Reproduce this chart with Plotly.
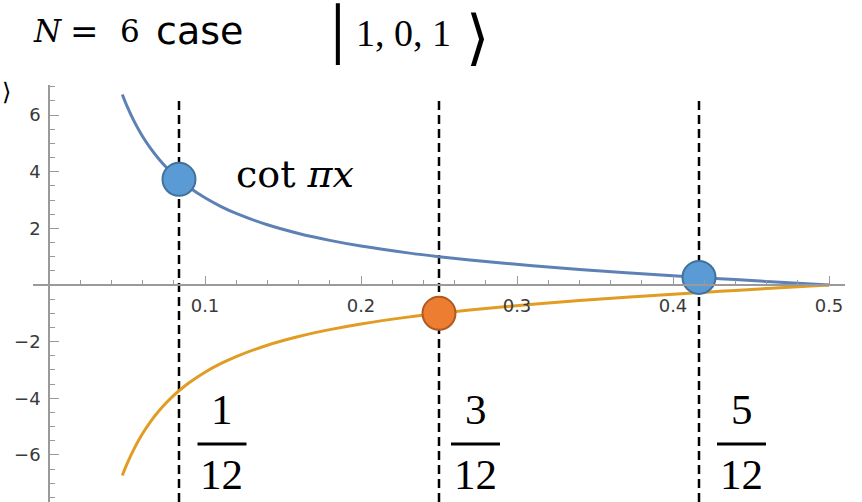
import plotly.graph_objects as go

# ---- data -------------------------------------------------------------
# sampled points of the cot(pi x) curve and its mirror image
x_vals = [0.047, 0.05, 0.055, 0.06, 0.065, 0.07, 0.075, 0.08, 1 / 12, 0.09,
          0.10, 0.11, 0.12, 0.14, 0.16, 0.18, 0.20, 0.23, 0.25, 0.28, 0.31,
          0.34, 0.37, 0.40, 0.43, 0.46, 0.50]
cot_vals = [6.724, 6.314, 5.730, 5.242, 4.829, 4.474, 4.165, 3.895, 3.732, 3.442,
            3.078, 2.778, 2.526, 2.125, 1.819, 1.576, 1.376, 1.134, 1.000, 0.827, 0.680,
            0.550, 0.433, 0.325, 0.224, 0.126, 0.0]
neg_cot_vals = [-6.724, -6.314, -5.730, -5.242, -4.829, -4.474, -4.165, -3.895, -3.732, -3.442,
                -3.078, -2.778, -2.526, -2.125, -1.819, -1.576, -1.376, -1.134, -1.000, -0.827, -0.680,
                -0.550, -0.433, -0.325, -0.224, -0.126, 0.0]

# highlighted points at k/12
blue_pts_x = [1 / 12, 5 / 12]
blue_pts_y = [3.732, 0.268]
orange_pts_x = [3 / 12]
orange_pts_y = [-1.0]

# dashed guides and their fraction labels
guide_x = [1 / 12, 3 / 12, 5 / 12]
guide_num = ["1", "3", "5"]
guide_den = ["12", "12", "12"]

x_tickvals = [0.1, 0.2, 0.3, 0.4, 0.5]
x_ticktext = ["0.1", "0.2", "0.3", "0.4", "0.5"]
y_tickvals = [-6, -4, -2, 2, 4, 6]
y_ticktext = ["\u22126", "\u22124", "\u22122", "2", "4", "6"]

# ---- geometry helpers (pixel -> paper) ---------------------------------
W, H = 862, 502


def px(x):
    return x / W


def py(y):
    return 1 - y / H


Y_SCALE = 28.33      # pixels per y unit
X_SCALE = 1560.0     # pixels per x unit
ORIGIN_X, ORIGIN_Y = 49, 285
AX_LEFT, AX_RIGHT, AX_TOP = 33, 845, 85

BLUE = "#5E81B5"
ORANGE = "#E19C24"
AXIS_GREY = "#9a9a9a"

fig = go.Figure()

fig.add_trace(go.Scatter(x=x_vals, y=cot_vals, mode="lines",
                         line=dict(color=BLUE, width=3, shape="spline"),
                         hoverinfo="skip", showlegend=False))
fig.add_trace(go.Scatter(x=x_vals, y=neg_cot_vals, mode="lines",
                         line=dict(color=ORANGE, width=3, shape="spline"),
                         hoverinfo="skip", showlegend=False))
fig.add_trace(go.Scatter(x=blue_pts_x, y=blue_pts_y, mode="markers",
                         marker=dict(size=33, color="#5B9BD5",
                                     line=dict(color="#41719C", width=2)),
                         hoverinfo="skip", showlegend=False))
fig.add_trace(go.Scatter(x=orange_pts_x, y=orange_pts_y, mode="markers",
                         marker=dict(size=33, color="#ED7D31",
                                     line=dict(color="#AE5A21", width=2)),
                         hoverinfo="skip", showlegend=False))

y_bottom = (ORIGIN_Y - H) / Y_SCALE
y_top = (ORIGIN_Y - AX_TOP) / Y_SCALE
guide_top = (ORIGIN_Y - 100) / Y_SCALE

shapes = []
for gx in guide_x:
    shapes.append(dict(type="line", xref="x", yref="y", x0=gx, x1=gx,
                       y0=y_bottom, y1=guide_top, layer="below",
                       line=dict(color="black", width=2.5, dash="9px,5px")))

annotations = []
frac_centers = [222, 475.5, 741.5]
SERIF = "Liberation Serif"
for cx, num, den in zip(frac_centers, guide_num, guide_den):
    annotations.append(dict(x=px(cx), y=py(409), xref="paper", yref="paper",
                            text=num, showarrow=False, xanchor="center", yanchor="middle",
                            font=dict(family=SERIF, size=43, color="black")))
    annotations.append(dict(x=px(cx), y=py(474), xref="paper", yref="paper",
                            text=den, showarrow=False, xanchor="center", yanchor="middle",
                            font=dict(family=SERIF, size=43, color="black")))
    shapes.append(dict(type="line", xref="paper", yref="paper",
                       x0=px(cx - 24.5), x1=px(cx + 24.5), y0=py(444), y1=py(444),
                       line=dict(color="black", width=2.8)))

# curve label
annotations.append(dict(x=px(234), y=py(174), xref="paper", yref="paper",
                        text="cot <i>\u03c0x</i>", showarrow=False,
                        xanchor="left", yanchor="middle",
                        font=dict(family="DejaVu Serif", size=38, color="black")))

# heading: "N = 6 case"
head_y = py(31)
annotations.append(dict(x=px(31), y=head_y, xref="paper", yref="paper", text="<i>N</i>",
                        showarrow=False, xanchor="left", yanchor="middle",
                        font=dict(family="DejaVu Serif", size=31, color="black")))
annotations.append(dict(x=px(84), y=head_y, xref="paper", yref="paper", text="=",
                        showarrow=False, xanchor="center", yanchor="middle",
                        font=dict(family="DejaVu Serif", size=34, color="black")))
annotations.append(dict(x=px(130), y=head_y, xref="paper", yref="paper", text="6",
                        showarrow=False, xanchor="center", yanchor="middle",
                        font=dict(family="DejaVu Serif", size=31, color="black")))
annotations.append(dict(x=px(154), y=head_y, xref="paper", yref="paper", text="case",
                        showarrow=False, xanchor="left", yanchor="middle",
                        font=dict(family="DejaVu Sans", size=38, color="black")))

# ket |1, 0, 1>
annotations.append(dict(x=px(403), y=py(33), xref="paper", yref="paper", text="1, 0, 1",
                        showarrow=False, xanchor="center", yanchor="middle",
                        font=dict(family=SERIF, size=38, color="black")))
annotations.append(dict(x=px(337), y=py(34), xref="paper", yref="paper", text="\u2502",
                        showarrow=False, xanchor="center", yanchor="middle",
                        font=dict(family="DejaVu Sans Mono", size=52, color="black")))
annotations.append(dict(x=px(477), y=py(37), xref="paper", yref="paper", text="\u27e9",
                        showarrow=False, xanchor="center", yanchor="middle",
                        font=dict(family="DejaVu Sans", size=60, color="black")))
# small bracket at the far left edge
annotations.append(dict(x=px(0), y=py(92), xref="paper", yref="paper", text="\u27e9",
                        showarrow=False, xanchor="left", yanchor="middle",
                        font=dict(family="DejaVu Sans", size=24, color="black")))

tick_font = dict(family="DejaVu Sans", size=18, color="#3a3a3a")

fig.update_layout(
    width=W, height=H,
    margin=dict(l=0, r=0, t=0, b=0),
    paper_bgcolor="white", plot_bgcolor="white",
    showlegend=False,
    xaxis=dict(domain=[px(AX_LEFT), px(AX_RIGHT)],
               range=[(AX_LEFT - ORIGIN_X) / X_SCALE, (AX_RIGHT - ORIGIN_X) / X_SCALE],
               anchor="free", position=py(ORIGIN_Y),
               showline=True, linecolor=AXIS_GREY, linewidth=1.5,
               ticks="inside", ticklen=8, tickwidth=1.3, tickcolor=AXIS_GREY,
               tickvals=x_tickvals, ticktext=x_ticktext, tickfont=tick_font,
               ticklabelstandoff=5,
               minor=dict(ticks="inside", dtick=0.02, tick0=0, ticklen=4,
                          tickwidth=1.1, tickcolor=AXIS_GREY, showgrid=False),
               showgrid=False, zeroline=False, fixedrange=True),
    yaxis=dict(domain=[0, py(AX_TOP)],
               range=[y_bottom, y_top],
               anchor="free", position=px(ORIGIN_X),
               showline=True, linecolor=AXIS_GREY, linewidth=1.5,
               ticks="inside", ticklen=9, tickwidth=1.3, tickcolor=AXIS_GREY,
               tickvals=y_tickvals, ticktext=y_ticktext, tickfont=tick_font,
               ticklabelstandoff=4,
               minor=dict(ticks="inside", dtick=0.5, tick0=0, ticklen=5,
                          tickwidth=1.1, tickcolor=AXIS_GREY, showgrid=False),
               showgrid=False, zeroline=False, fixedrange=True),
    shapes=shapes,
    annotations=annotations,
)

fig.write_html("out.html")
